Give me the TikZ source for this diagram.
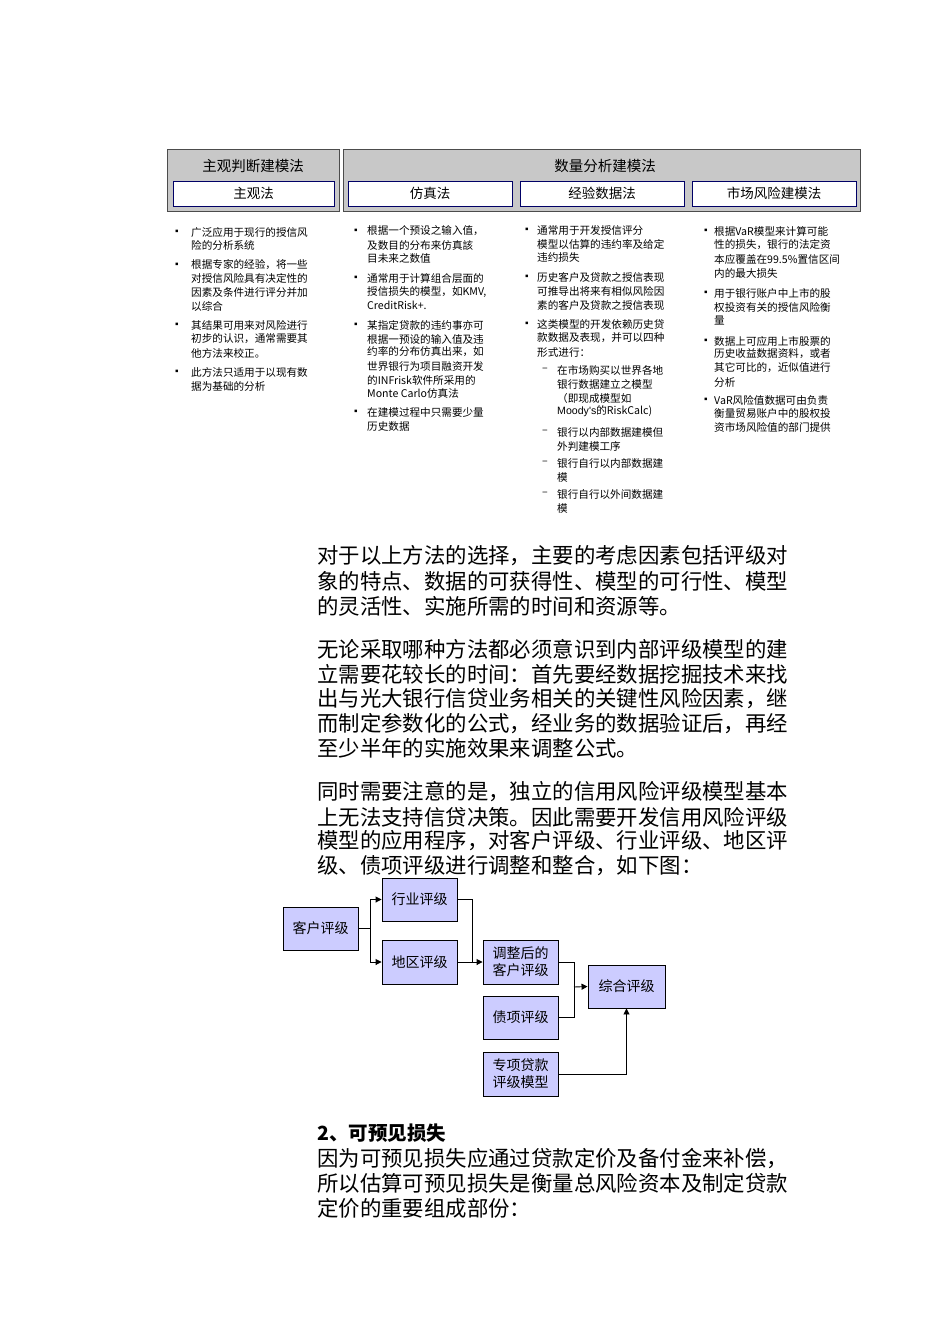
\documentclass[tikz,border=0pt]{standalone}
\usepackage{fontspec}
\setmainfont{Noto Sans CJK SC}
\newfontfamily\latinf{Liberation Sans}
\usetikzlibrary{arrows.meta}
\definecolor{hdr}{HTML}{C8C8C8}
\definecolor{lav}{HTML}{CCCCFF}
\tikzset{
 hdrbox/.style={draw=black!70,fill=hdr,line width=0.8pt},
 subbox/.style={draw=blue!40!black,fill=white,line width=1pt,font=\fontsize{13.5}{13}\selectfont},
 tl/.style={anchor=west,inner sep=0pt,font=\fontsize{10.6}{10}\selectfont},
 bl/.style={anchor=west,inner sep=0pt,font=\fontsize{10}{10}\selectfont},
 body/.style={anchor=west,inner sep=0pt,font=\fontsize{21.4}{20}\selectfont},
 fbox/.style={draw=black,fill=lav,line width=0.9pt,inner sep=0pt,align=center,font=\fontsize{14}{17}\selectfont},
 conn/.style={line width=0.9pt},
 arr/.style={line width=0.9pt,-{Triangle[length=6pt,width=6pt]}}
}
\begin{document}
\begin{tikzpicture}[x=1pt,y=-1pt]
\useasboundingbox (0,0) rectangle (950,1344);
\fill[white] (0,0) rectangle (950,1344);
% table headers
\draw[hdrbox] (167,149) rectangle (339,211);
\draw[hdrbox] (343,149) rectangle (860,211);
\node[font=\fontsize{14.5}{14}\selectfont] (h1) at (253,166) {主观判断建模法};
\node[font=\fontsize{14.5}{14}\selectfont] (h2) at (605,166) {数量分析建模法};
\draw[subbox] (173,181) rectangle node (s1) {主观法} (334,206);
\draw[subbox] (348,181) rectangle node (s2) {仿真法} (512,206);
\draw[subbox] (520,181) rectangle node (s3) {经验数据法} (684,206);
\draw[subbox] (692,181) rectangle node (s4) {市场风险建模法} (856,206);
% bullets
\foreach \x/\y [count=\i] in {175/232,175/265,175/325,175/372,354/231,354/278,354/325,354/412,525/230,525/277,525/324,704/231,704/293,704/341,704/400}
  \node[bl] (b\i) at (\x,\y) {\latinf ▪};
% column 1
\foreach \y/\t [count=\i] in {232/广泛应用于现行的授信风,245/险的分析系统,265/根据专家的经验，将一些,278/对授信风险具有决定性的,292/因素及条件进行评分并加,306/以综合,325/其结果可用来对风险进行,339/初步的认识，通常需要其,353/他方法来校正。,372/此方法只适用于以现有数,386/据为基础的分析}
  \node[tl] (ca\i) at (191,\y) {\t};
% column 2
\foreach \y/\t [count=\i] in {231/根据一个预设之输入值，,245/及数目的分布来仿真該,258/目未来之数值,278/通常用于计算组合层面的,292/{授信损失的模型，如KMV,},305/CreditRisk+.,325/某指定贷款的违约事亦可,339/根据一预设的输入值及违,352/约率的分布仿真出来，如,366/世界银行为项目融资开发,380/的INFrisk软件所采用的,393/Monte Carlo仿真法,412/在建模过程中只需要少量,426/历史数据}
  \node[tl] (cb\i) at (367,\y) {\t};
% column 3
\foreach \y/\t [count=\i] in {230/通常用于开发授信评分/评级,244/模型以估算的违约率及给定,257/违约损失,277/历史客户及贷款之授信表现,291/可推导出将来有相似风险因,305/素的客户及贷款之授信表现,324/这类模型的开发依赖历史贷,338/款数据及表现，并可以四种,352/形式进行：}
  \node[tl] (cc\i) at (537,\y) {\t};
\foreach \y/\t [count=\i] in {370/在市场购买以世界各地,384/银行数据建立之模型,398/（即现成模型如,411/{{\latinf Moody's}的RiskCalc)},432/银行以内部数据建模但,446/外判建模工序,463/银行自行以内部数据建,477/模,494/银行自行以外间数据建,508/模}
  \node[tl] (cd\i) at (557,\y) {\t};
\foreach \y [count=\i] in {370,432,463,494}
  \node[tl] (dash\i) at (542,\y) {–};
% column 4
\foreach \y/\t [count=\i] in {231/根据VaR模型来计算可能,245/性的损失，银行的法定资,259/本应覆盖在99.5\%置信区间,273/内的最大损失,293/用于银行账户中上市的股,307/权投资有关的授信风险衡,321/量,341/数据上可应用上市股票的,354/历史收益数据资料，或者,368/其它可比的，近似值进行,382/分析,400/VaR风险值数据可由负责,413/衡量贸易账户中的股权投,427/资市场风险值的部门提供}
  \node[tl] (ce\i) at (714,\y) {\t};
% body text
\foreach \y/\t [count=\i] in {556/对于以上方法的选择，主要的考虑因素包括评级对,581/象的特点、数据的可获得性、模型的可行性、模型,606/的灵活性、实施所需的时间和资源等。,649/无论采取哪种方法都必须意识到内部评级模型的建,674/立需要花较长的时间：首先要经数据挖掘技术来找,699/出与光大银行信贷业务相关的关键性风险因素，继,724/而制定参数化的公式，经业务的数据验证后，再经,748/至少半年的实施效果来调整公式。,792/同时需要注意的是，独立的信用风险评级模型基本,817/上无法支持信贷决策。因此需要开发信用风险评级,841/模型的应用程序，对客户评级、行业评级、地区评,866/级、债项评级进行调整和整合，如下图：,1159/因为可预见损失应通过贷款定价及备付金来补偿，,1183/所以估算可预见损失是衡量总风险资本及制定贷款,1208/定价的重要组成部份：}
  \node[body] (p\i) at (317,\y) {\t};
\node[body,font=\fontsize{19.5}{20}\selectfont\bfseries] (sec) at (317,1133) {2、可预见损失};
% flowchart
\node[fbox,minimum width=75pt,minimum height=43pt] (kh) at (320.5,928.5) {客户评级};
\node[fbox,minimum width=75pt,minimum height=43pt] (hy) at (419.5,899.5) {行业评级};
\node[fbox,minimum width=75pt,minimum height=44pt] (dq) at (419.5,962) {地区评级};
\node[fbox,minimum width=75pt,minimum height=44pt] (tz) at (520.5,962) {调整后的\\客户评级};
\node[fbox,minimum width=75pt,minimum height=43pt] (zx) at (520.5,1017.5) {债项评级};
\node[fbox,minimum width=75pt,minimum height=44pt] (zd) at (520.5,1074) {专项贷款\\评级模型};
\node[fbox,minimum width=77pt,minimum height=43pt] (zh) at (626.5,986.5) {综合评级};
\coordinate (j1) at (370,928.5);
\coordinate (j2) at (472,899.5);
\coordinate (j3) at (574,987);
\draw[conn] (kh.east) -- (j1);
\draw[arr] (j1) |- (hy.west);
\draw[arr] (j1) |- (dq.west);
\draw[conn] (hy.east) -- (j2) -- (j2 |- dq.east);
\draw[arr] (dq.east) -- (tz.west);
\draw[conn] (tz.east) -| (j3);
\draw[conn] (zx.east) -| (j3);
\draw[arr] (j3) -- (zh.west);
\draw[arr] (zd.east) -| (zh.south);
\end{tikzpicture}
\end{document}
